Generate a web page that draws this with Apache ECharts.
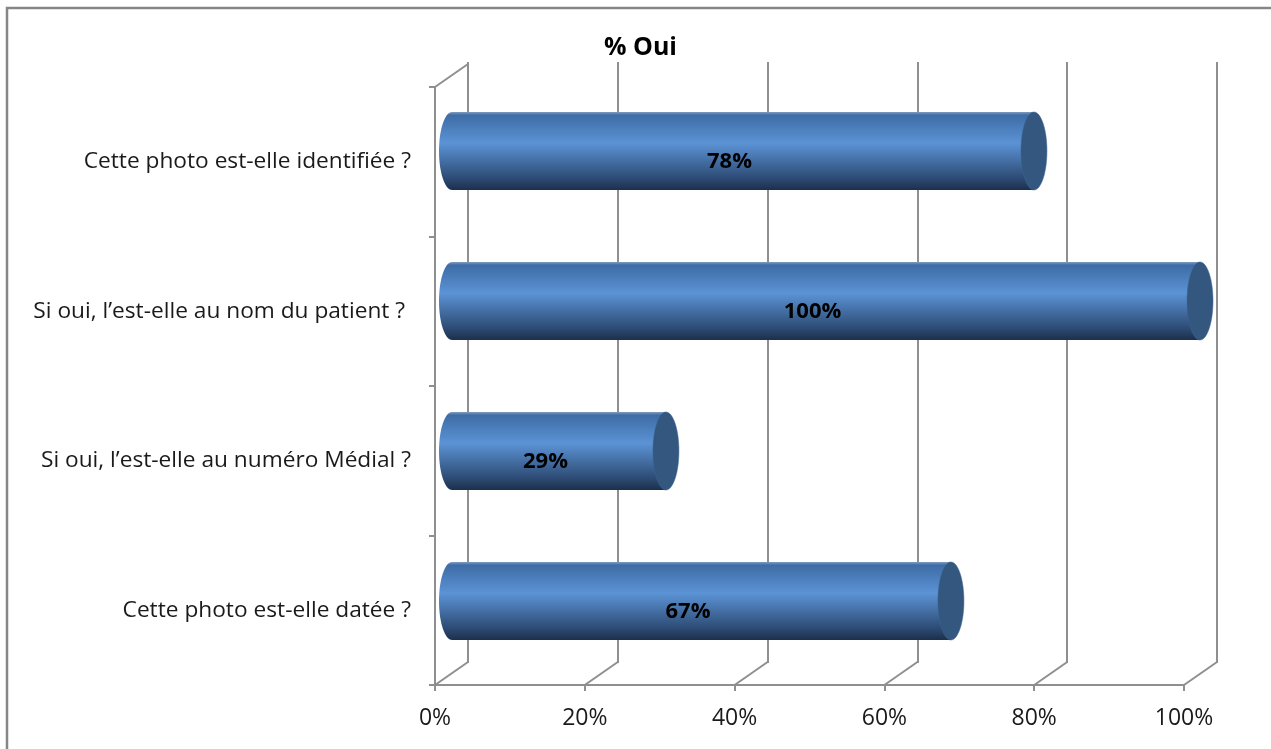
<!DOCTYPE html>
<html>
<head>
<meta charset="utf-8">
<script src="https://cdn.jsdelivr.net/npm/echarts@6/dist/echarts.min.js"></script>
<style>
  html, body { margin: 0; padding: 0; background: #fff; }
  #chart { width: 1271px; height: 749px; }
</style>
</head>
<body>
<div id="chart"></div>
<script>
// données
var questions = [
  'Cette photo est-elle datée ?',
  'Si oui, l’est-elle au numéro Médial ?',
  'Si oui, l’est-elle au nom du patient ? ',
  'Cette photo est-elle identifiée ?'
];
var pctOui = [66.7, 28.6, 100, 77.8];
var pctLabels = ['67%', '29%', '100%', '78%'];
var xTicks = [0, 20, 40, 60, 80, 100];

var FONT = '"Open Sans"';
var GRID = '#8f8f8f';
var DX = 33, DY = -23;  // profondeur 3D

var chart = echarts.init(document.getElementById('chart'));

// cylindre : ellipse gauche + corps + couvercle droit
function renderCylinder(params, api) {
  var i = api.value(0);
  var v = api.value(1);
  var p0 = api.coord([0, i]);
  var p1 = api.coord([v, i]);
  var h = api.size([0, 1])[1] * 0.52;
  var rx = 13, ry = h / 2;
  var cy = p0[1];
  var body = new echarts.graphic.LinearGradient(0, 0, 0, 1, [
    { offset: 0, color: '#7f9cc0' },
    { offset: 0.04, color: '#3e6ca6' },
    { offset: 0.4, color: '#5b93d5' },
    { offset: 0.85, color: '#2d4b74' },
    { offset: 1, color: '#1c2f4c' }
  ]);
  return {
    type: 'group',
    children: [
      { type: 'ellipse', shape: { cx: p0[0], cy: cy, rx: rx, ry: ry }, style: { fill: body } },
      { type: 'rect', shape: { x: p0[0], y: cy - ry, width: p1[0] - p0[0], height: h }, style: { fill: body } },
      { type: 'ellipse', shape: { cx: p1[0], cy: cy, rx: rx, ry: ry }, style: { fill: '#33577f', stroke: '#3c6491', lineWidth: 0.5 } },
      {
        type: 'text',
        x: (p0[0] - rx + p1[0]) / 2 - 7,
        y: cy + 11,
        style: {
          text: pctLabels[i], fill: '#000', font: 'bold 22px ' + FONT,
          align: 'center', verticalAlign: 'middle'
        }
      }
    ]
  };
}

// lignes obliques du sol et du mur gauche
function renderFloor(params, api) {
  var v = api.value(0);
  var cs = params.coordSys;
  var x = api.coord([v, 0])[0];
  var yb = cs.y + cs.height;
  var children = [
    { type: 'line', shape: { x1: x, y1: yb, x2: x + DX, y2: yb + DY }, style: { stroke: GRID, lineWidth: 2 } }
  ];
  if (v === 0) {
    children.push({ type: 'line', shape: { x1: x, y1: cs.y, x2: x + DX, y2: cs.y + DY }, style: { stroke: GRID, lineWidth: 2 } });
  }
  return { type: 'group', children: children };
}

chart.setOption({
  backgroundColor: '#fff',
  animation: false,
  title: {
    text: '% Oui', left: 599, top: 30,
    textStyle: { fontFamily: FONT, fontWeight: 'bold', fontSize: 25, color: '#000' }
  },
  graphic: [
    { type: 'rect', shape: { x: 7, y: 8, width: 1300, height: 800 }, style: { fill: 'none', stroke: '#868686', lineWidth: 2.5 }, silent: true }
  ],
  grid: [
    // mur du fond
    { left: 468, right: 1271 - 1217, top: 62, bottom: 749 - 663 },
    // plan avant
    { left: 435, right: 1271 - 1184, top: 87, bottom: 749 - 685 },
    // plan médian (barres)
    { left: 452, right: 1271 - 1200, top: 76, bottom: 749 - 676 }
  ],
  xAxis: [
    {
      gridIndex: 0, type: 'value', min: 0, max: 100, interval: 20,
      axisLine: { show: false }, axisTick: { show: false }, axisLabel: { show: false },
      splitLine: { show: true, lineStyle: { color: GRID, width: 2 } }
    },
    {
      gridIndex: 1, type: 'value', min: 0, max: 100, interval: 20,
      axisLine: { show: true, lineStyle: { color: GRID, width: 2 } },
      axisTick: { show: true, length: 6, lineStyle: { color: GRID, width: 2 } },
      axisLabel: { formatter: '{value}%', fontFamily: FONT, fontSize: 23, color: '#1a1a1a', margin: 22 },
      splitLine: { show: false }
    },
    {
      gridIndex: 2, type: 'value', min: 0, max: 100, show: false
    }
  ],
  yAxis: [
    { gridIndex: 0, type: 'category', data: questions, show: false },
    {
      gridIndex: 1, type: 'category', data: questions,
      axisLine: { show: true, lineStyle: { color: GRID, width: 2 } },
      axisTick: { show: true, length: 6, lineStyle: { color: GRID, width: 2 } },
      axisLabel: { fontFamily: FONT, fontSize: 22.7, color: '#1a1a1a', margin: 24, padding: [6, 0, 0, 0] }
    },
    { gridIndex: 2, type: 'category', data: questions, show: false }
  ],
  series: [
    {
      type: 'custom', xAxisIndex: 1, yAxisIndex: 1,
      renderItem: renderFloor,
      data: xTicks.map(function (t) { return [t]; }),
      silent: true
    },
    {
      type: 'custom', xAxisIndex: 2, yAxisIndex: 2,
      renderItem: renderCylinder,
      encode: { x: 1, y: 0 },
      data: pctOui.map(function (v, i) { return [i, v]; }),
      z: 5
    }
  ]
});
</script>
</body>
</html>
